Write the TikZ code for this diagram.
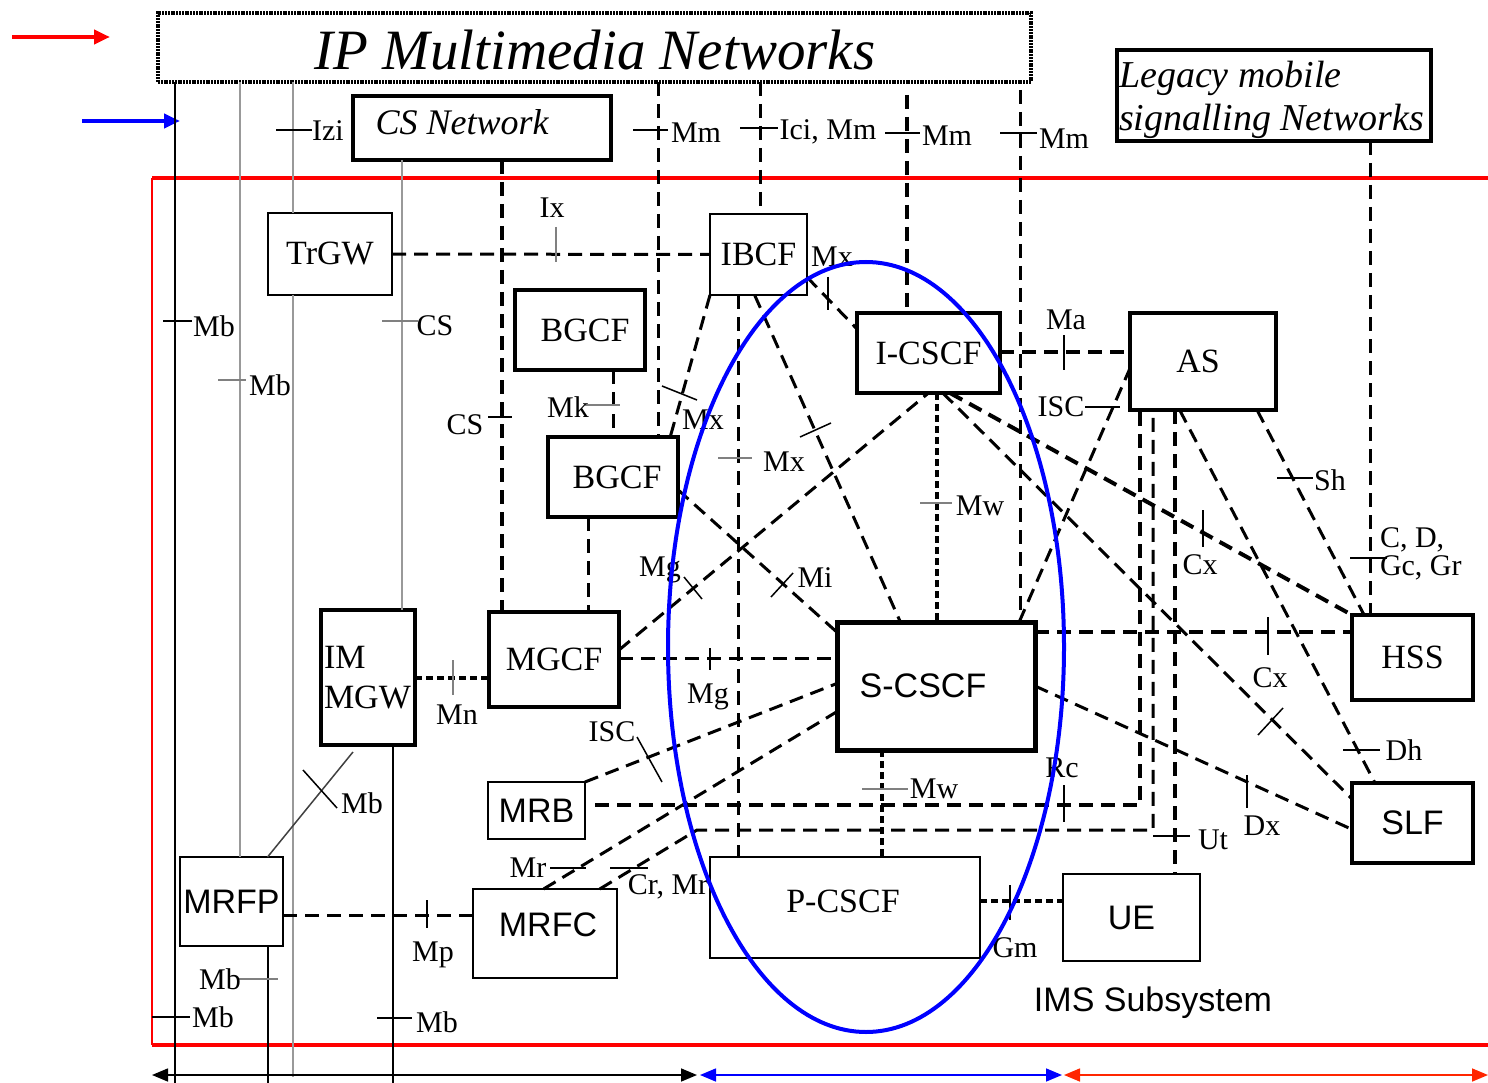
\documentclass[tikz,border=0pt]{standalone}
\usepackage{fontspec}
\setmainfont{Liberation Serif}
\newfontfamily\arialf{Liberation Sans}
\usetikzlibrary{calc,arrows.meta}
\newcommand\myfs[1]{\fontsize{#1}{#1}\selectfont}
\begin{document}
\begin{tikzpicture}[x=1pt,y=-1pt,
  fbox/.style={draw, inner sep=0pt, outer sep=0pt, font=\myfs{34}},
  thinb/.style={fbox, line width=2pt},
  medb/.style={fbox, line width=2.6pt},
  thickb/.style={fbox, line width=3.6pt},
  sansb/.style={font=\arialf\myfs{34}},
  txt/.style={inner sep=0pt, outer sep=0pt},
  lbl/.style={inner sep=0pt, outer sep=0pt, font=\myfs{30}},
  dln/.style={line width=3pt, dash pattern=on 14pt off 8pt},
  tdln/.style={line width=4pt, dash pattern=on 14pt off 8pt},
  sdln/.style={line width=4.2pt, dash pattern=on 7pt off 4pt},
  tk/.style={line width=1.5pt},
  gtk/.style={line width=1.5pt, draw=gray},
  gln/.style={line width=2pt, draw=black!40},
  bln/.style={line width=1.5pt},
  span/.style={line width=1.6pt, {Triangle[length=16pt,width=13pt]}-{Triangle[length=16pt,width=13pt]}}
]
\useasboundingbox (0,0) rectangle (1488,1083);

% ---------- outer networks ----------
\node[draw, line width=4pt, dash pattern=on 2pt off 0.8pt, inner sep=0, outer sep=0,
      minimum width=873pt, minimum height=69pt] (title) at (594.5,47.5) {};
\node[txt, font=\myfs{57}\itshape] (titletxt) at (595,50) {IP Multimedia Networks};
\node[thickb, line width=4pt, minimum width=258pt, minimum height=64pt] (cs) at (482,128) {};
\node[txt, font=\myfs{36}\itshape] (cstxt) at (462,122) {CS Network};
\node[thickb, line width=4pt, minimum width=314pt, minimum height=91pt] (legacy) at (1274,95.5) {};
\node[txt, font=\myfs{38}\itshape, anchor=west] (leg1) at (1119,78) {Legacy mobile};
\node[txt, font=\myfs{38}\itshape, anchor=west] (leg2) at (1119,121) {signalling Networks};

% ---------- side arrows ----------
\coordinate (ra) at (12,37); \coordinate (rb) at (110,37);
\coordinate (ba) at (82,121); \coordinate (bb) at (180,121);
\draw[red, line width=4pt, -{Triangle[length=16pt,width=14pt]}] (ra) -- (rb);
\draw[blue, line width=4pt, -{Triangle[length=16pt,width=14pt]}] (ba) -- (bb);

% ---------- IMS frame ----------
\coordinate (f1) at (1488,178); \coordinate (f2) at (152,178);
\coordinate (f3) at (152,1045); \coordinate (f4) at (1488,1045);
\draw[red, line width=3.2pt] (f1) -- (f2);
\draw[red, line width=2pt] (f2) -- (f3);
\draw[red, line width=3.2pt] (f3) -- (f4);

% ---------- functional entities ----------
\node[thinb, minimum width=124pt, minimum height=82pt] (trgw) at (330,254) {TrGW};
\node[thinb, minimum width=97pt, minimum height=81pt] (ibcf) at (758.5,254.5) {IBCF};
\node[thickb, minimum width=130pt, minimum height=80pt] (bgcfa) at (580,330) {\hspace*{10pt}BGCF};
\node[thickb, minimum width=130pt, minimum height=80pt] (bgcfb) at (613,477) {\hspace*{8pt}BGCF};
\node[thickb, minimum width=143pt, minimum height=80pt] (icscf) at (928.5,353) {I-CSCF};
\node[thickb, line width=4pt, minimum width=146pt, minimum height=97pt] (as) at (1203,361.5) {\hspace*{-10pt}AS};
\node[thickb, line width=4pt, minimum width=121pt, minimum height=85pt] (hss) at (1412.5,657.5) {HSS};
\node[thickb, minimum width=121pt, minimum height=80pt, sansb] (slf) at (1412.5,823) {SLF};
\node[medb, minimum width=137pt, minimum height=87pt, sansb] (ue) at (1131.5,917.5) {UE};
\node[thickb, line width=5pt, minimum width=198pt, minimum height=128pt, sansb] (scscf) at (936,686) {\hspace*{-26pt}S-CSCF};
\node[thinb, minimum width=270pt, minimum height=101pt] (pcscf) at (845,907.5) {};
\node[txt, font=\myfs{34}] (pcscftxt) at (843,901) {P-CSCF};
\node[thickb, minimum width=130pt, minimum height=95pt] (mgcf) at (554,659.5) {MGCF};
\node[thickb, minimum width=94pt, minimum height=135pt] (immgw) at (368,677.5) {};
\node[txt, font=\myfs{34}, anchor=west] (immgw1) at (324,657) {IM};
\node[txt, font=\myfs{34}, anchor=west] (immgw2) at (324,697) {MGW};
\node[medb, minimum width=97pt, minimum height=57pt, sansb] (mrb) at (536.5,810.5) {MRB};
\node[medb, minimum width=103pt, minimum height=89pt, sansb] (mrfp) at (231.5,901.5) {MRFP};
\node[medb, minimum width=144pt, minimum height=89pt] (mrfc) at (545,933.5) {};
\node[txt, font=\arialf\myfs{34}] (mrfctxt) at (548,925) {MRFC};

% ---------- helper positions ----------
\foreach \n in {175,240,268,293,393,402,502,588,613,658,738,760,882,907,937,1020,1140,1153,1175,1370}
  {\coordinate (x\n) at (\n,0);}
\coordinate (ybot) at (0,1083);
\coordinate (ygray) at (0,1077);
\coordinate (t907) at (907,95);
\coordinate (t1020) at (1020,90);

% ---------- bearer / media lines ----------
\draw[bln] (title.south -| x175) -- (ybot -| x175);
\draw[gln] (title.south -| x240) -- (mrfp.north -| x240);
\draw[gln] (title.south -| x293) -- (trgw.north -| x293);
\draw[gln] (trgw.south -| x293) -- (ygray -| x293);
\draw[gln] (cs.south -| x402) -- (immgw.north -| x402);
\draw[bln] (mrfp.south -| x268) -- (ybot -| x268);
\draw[bln] (immgw.south -| x393) -- (ybot -| x393);
\draw[line width=1.5pt, black!75] ($(immgw.south west)!0.34!(immgw.south east)+(0,7)$)
   -- ($(mrfp.north west)!0.85!(mrfp.north east)$);

% ---------- signalling to outer networks ----------
\draw[tdln] (cs.south -| x502) -- (mgcf.north -| x502);
\draw[dln] (title.south -| x658) -- (bgcfb.north -| x658);
\draw[dln] (title.south -| x760) -- (ibcf.north -| x760);
\draw[tdln] (t907) -- (icscf.north -| x907);
\draw[dln] (t1020) -- (scscf.north -| x1020);
\draw[dln] (legacy.south -| x1370) -- (hss.north -| x1370);

% ---------- IMS internal reference points ----------
\draw[dln] (trgw.east) -- (ibcf.west);
\draw[dln] (bgcfa.south -| x613) -- (bgcfb.north -| x613);
\draw[dln] (bgcfb.south -| x588) -- (mgcf.north -| x588);
\coordinate (ymn) at (0,678);
\draw[sdln] (immgw.east |- ymn) -- (mgcf.west |- ymn);
\coordinate (ymp) at (0,915);
\draw[dln] (mrfp.east |- ymp) -- (mrfc.west |- ymp);
\coordinate (ymg) at (0,658);
\draw[dln] (mgcf.east |- ymg) -- (scscf.west |- ymg);
\draw[dln] (ibcf.south -| x738) -- (pcscf.north -| x738);
\draw[dln] ($(mgcf.north east)!0.4!(mgcf.south east)$) -- (icscf.south);
\draw[dln] ($(bgcfb.north east)!0.66!(bgcfb.south east)$) -- ($(scscf.north west)!0.08!(scscf.south west)$);
\draw[dln] (ibcf.south west) -- ($(bgcfb.north west)!0.94!(bgcfb.north east)$);
\draw[dln] ($(ibcf.south west)!0.46!(ibcf.south east)$) -- ($(scscf.north west)!0.32!(scscf.north east)$);
\draw[dln] ($(ibcf.north east)!0.78!(ibcf.south east)$) -- ($(icscf.north west)!0.2!(icscf.south west)$);
\draw[sdln] (icscf.south -| x937) -- (scscf.north -| x937);
\coordinate (yma) at (0,352);
\draw[tdln] (icscf.east |- yma) -- (as.west |- yma);
\draw[dln] ($(scscf.north west)!0.92!(scscf.north east)$) -- ($(as.north west)!0.57!(as.south west)$);
\draw[tdln] ($(icscf.south west)!0.65!(icscf.south east)$) -- (hss.north west);
\draw[dln] ($(icscf.south west)!0.6!(icscf.south east)$) -- ($(slf.north west)!0.2!(slf.south west)$);
\coordinate (ycx) at (0,632);
\draw[tdln] (scscf.east |- ycx) -- (hss.west |- ycx);
\draw[dln] (scscf.east) -- ($(slf.north west)!0.58!(slf.south west)$);
\draw[dln] ($(as.south west)!0.87!(as.south east)$) -- ($(hss.north west)!0.1!(hss.north east)$);
\draw[dln] ($(as.south west)!0.34!(as.south east)$) -- ($(slf.north west)!0.19!(slf.north east)$);
\coordinate (rcstart) at ($(mrb.north east)!0.4!(mrb.south east)+(10,0)$);
\draw[tdln] (rcstart) -- (rcstart -| x1140) -- (as.south -| x1140);
\coordinate (crbend) at (697,830);
\draw[dln] ($(mrfc.north west)!0.88!(mrfc.north east)$) -- (crbend) -- (crbend -| x1153) -- (as.south -| x1153);
\draw[tdln] (as.south -| x1175) -- (ue.north -| x1175);
\draw[dln] (mrb.north east) -- ($(scscf.north west)!0.48!(scscf.south west)$);
\draw[dln] ($(mrfc.north west)!0.49!(mrfc.north east)$) -- ($(scscf.north west)!0.7!(scscf.south west)$);
\draw[sdln] (scscf.south -| x882) -- (pcscf.north -| x882);
\coordinate (ygm) at (0,901);
\draw[sdln] (pcscf.east |- ygm) -- (ue.west |- ygm);

% ---------- interface ticks ----------
\draw[tk] (276,130) -- (312,130);
\draw[tk] (633,130) -- (668,130);
\draw[tk] (740,128) -- (778,128);
\draw[tk] (885,133) -- (920,133);
\draw[tk] (1000,133) -- (1037,133);
\draw[tk] (163,321) -- (192,321);
\draw[gtk] (218,380) -- (246,380);
\draw[gtk] (382,321) -- (418,321);
\draw[gtk] (556,227) -- (556,262);
\draw[gtk] (585,405) -- (620,405);
\draw[tk] (488,417) -- (512,417);
\draw[tk] (662,386) -- (697,400);
\draw[gtk] (718,458) -- (752,458);
\draw[tk] (800,437) -- (831,423);
\draw[tk] (828,277) -- (828,310);
\draw[gtk] (920,503) -- (952,503);
\draw[tk] (1064,335) -- (1064,370);
\draw[tk] (1085,407) -- (1120,407);
\draw[tk] (1203,510) -- (1203,547);
\draw[tk] (1277,478) -- (1313,478);
\draw[tk] (1350,558) -- (1387,558);
\draw[tk] (1268,617) -- (1268,655);
\draw[tk] (1258,735) -- (1283,708);
\draw[tk] (1343,750) -- (1380,750);
\draw[tk] (1247,775) -- (1247,808);
\draw[tk] (1064,785) -- (1064,822);
\draw[tk] (1153,836) -- (1190,836);
\draw[tk] (1010,885) -- (1010,920);
\draw[gtk] (862,789) -- (908,789);
\draw[tk] (710,648) -- (710,670);
\draw[tk] (684,577) -- (702,599);
\draw[tk] (771,597) -- (793,573);
\draw[gtk] (453,660) -- (453,695);
\draw[line width=2.5pt] (427,900) -- (427,928);
\draw[tk] (303,770) -- (337,808);
\draw[tk] (637,737) -- (662,782);
\draw[tk] (550,868) -- (586,868);
\draw[tk] (610,868) -- (648,868);
\draw[gtk] (238,979) -- (278,979);
\draw[tk] (152,1017) -- (190,1017);
\draw[tk] (377,1018) -- (412,1018);

% ---------- interface labels ----------
\node[lbl] (lizi) at (328,131) {Izi};
\node[lbl] (lmma) at (696,133) {Mm};
\node[lbl] (lici) at (828,132) {Ici, Mm};
\node[lbl] (lmmb) at (947,136) {Mm};
\node[lbl] (lmmc) at (1064,139) {Mm};
\node[lbl] (lmba) at (214,326) {Mb};
\node[lbl] (lmbb) at (270,385) {Mb};
\node[lbl] (lcsa) at (435,326) {CS};
\node[lbl] (lix) at (552,208) {Ix};
\node[lbl] (lmk) at (568,407) {Mk};
\node[lbl] (lcsb) at (465,425) {CS};
\node[lbl] (lmxa) at (703,420) {Mx};
\node[lbl] (lmxb) at (784,462) {Mx};
\node[lbl] (lmxc) at (832,257) {Mx};
\node[lbl] (lmwa) at (980,506) {Mw};
\node[lbl] (lma) at (1066,320) {Ma};
\node[lbl] (lisca) at (1061,407) {ISC};
\node[lbl] (lcxa) at (1200,565) {Cx};
\node[lbl] (lsh) at (1330,480) {Sh};
\node[lbl, anchor=west] (lcd) at (1380,540) {C, D,};
\node[lbl, anchor=west] (lgc) at (1380,568) {Gc, Gr};
\node[lbl] (lcxb) at (1270,678) {Cx};
\node[lbl] (ldh) at (1404,750) {Dh};
\node[lbl] (ldx) at (1262,826) {Dx};
\node[lbl] (lrc) at (1062,768) {Rc};
\node[lbl] (lut) at (1213,840) {Ut};
\node[lbl] (lgm) at (1015,948) {Gm};
\node[lbl] (lmwb) at (934,789) {Mw};
\node[lbl] (lmga) at (708,697) {Mg};
\node[lbl] (lmgb) at (660,570) {Mg};
\node[lbl] (lmi) at (815,578) {Mi};
\node[lbl] (lmn) at (457,715) {Mn};
\node[lbl] (lmp) at (433,955) {Mp};
\node[lbl] (lmbc) at (362,803) {Mb};
\node[lbl] (liscb) at (612,732) {ISC};
\node[lbl] (lmr) at (528,868) {Mr};
\node[lbl] (lcr) at (668,887) {Cr, Mr};
\node[lbl] (lmbd) at (220,979) {Mb};
\node[lbl] (lmbe) at (213,1017) {Mb};
\node[lbl] (lmbf) at (437,1022) {Mb};

\node[txt, font=\arialf\myfs{34}] (imssub) at (1153,1003) {IMS Subsystem};

% ---------- core session control area ----------
\draw[blue, line width=4pt] (866,647) ellipse [x radius=198pt, y radius=385pt];

% ---------- domain extent arrows ----------
\coordinate (da) at (152,1075); \coordinate (db) at (697,1075);
\coordinate (dc) at (700,1075); \coordinate (dd) at (1062,1075);
\coordinate (de) at (1064,1075); \coordinate (df) at (1488,1075);
\draw[span] (da) -- (db);
\draw[span, blue] (dc) -- (dd);
\draw[span, red!70!orange] (de) -- (df);
\end{tikzpicture}
\end{document}
